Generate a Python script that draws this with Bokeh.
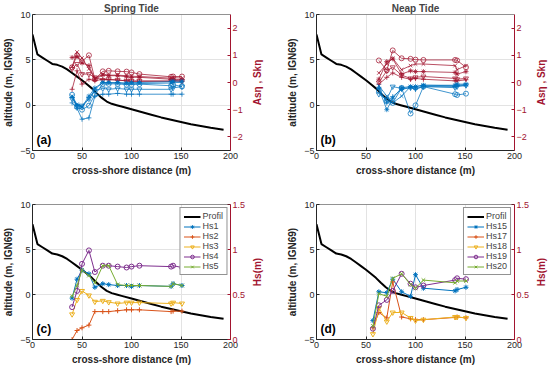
from bokeh.plotting import figure
from bokeh.layouts import gridplot
from bokeh.models import Range1d, LinearAxis, FixedTicker, Span, Label
from bokeh.embed import file_html
from bokeh.resources import INLINE

FONT = "Liberation Sans"
RED = "#A2142F"
BLUE = "#0072BD"
DARK = "#262626"
HS_COLORS = ["#0072BD", "#D95319", "#EDB120", "#7E2F8E", "#77AC30"]
MARKERS = ["asterisk", "cross", "inverted_triangle", "circle", "x"]

# beach profile
prof_x = [0, 5, 10, 15, 20, 25, 30, 35, 40, 45, 50, 55, 60, 65, 70, 75, 80, 85, 90,
          100, 110, 120, 130, 140, 150, 160, 170, 180, 193]
prof_z = [7.8, 5.6, 5.25, 4.9, 4.55, 4.45, 4.25, 3.95, 3.55, 3.15, 2.75, 2.3, 1.85, 1.3,
          0.8, 0.4, 0.15, 0.0, -0.15, -0.45, -0.75, -1.05, -1.35, -1.6, -1.85, -2.1,
          -2.3, -2.5, -2.7]

# sensor positions
x_spring = [40, 45, 50, 57, 63, 71, 77, 86, 95, 100, 108, 140, 142, 151]
x_neap_a = [63, 71, 77, 86, 95, 100, 108, 140, 142, 151]
x_neap_h = [57, 63, 71, 77, 86, 95, 100, 108, 140, 142, 151]

# (a) spring tide skewness / asymmetry
sk_spring_1 = [0.92, 0.95, 0.72, 0.62, 0.12, 0.27, 0.25, 0.25, 0.21, 0.19, 0.19, 0.12, 0.12, 0.10]
sk_spring_2 = [-0.25, 0.43, -0.06, 0.12, 0.06, 0.12, 0.10, 0.09, 0.06, 0.04, 0.04, 0.04, 0.05, 0.04]
sk_spring_3 = [0.50, 0.68, 0.31, 0.31, 0.19, 0.09, 0.12, 0.09, 0.06, 0.06, 0.06, 0.06, 0.08, 0.06]
sk_spring_4 = [0.56, 1.00, 0.78, 1.00, 0.12, 0.41, 0.43, 0.41, 0.40, 0.37, 0.31, 0.21, 0.22, 0.22]
sk_spring_5 = [0.58, 1.12, 0.90, 0.50, 0.15, 0.31, 0.27, 0.27, 0.25, 0.23, 0.22, 0.16, 0.18, 0.16]
as_spring_1 = [-0.55, -0.85, -0.90, -0.50, -0.20, 0.00, 0.00, 0.00, -0.02, 0.00, 0.00, 0.03, 0.05, 0.05]
as_spring_2 = [-0.75, -0.95, -1.35, -1.30, -0.50, -0.43, -0.43, -0.40, -0.43, -0.43, -0.43, -0.43, -0.43, -0.43]
as_spring_3 = [-0.60, -0.85, -0.85, -0.60, -0.30, -0.22, -0.25, -0.22, -0.25, -0.25, -0.25, -0.25, -0.20, -0.15]
as_spring_4 = [-0.45, -0.90, -1.00, -0.85, -0.45, -0.05, -0.05, -0.05, -0.08, -0.08, -0.06, -0.12, -0.08, -0.15]
as_spring_5 = [-0.50, -0.80, -0.90, -0.60, -0.25, 0.00, -0.02, -0.02, -0.04, -0.04, -0.04, -0.02, 0.00, 0.00]

# (b) neap tide skewness / asymmetry
sk_neap_1 = [0.12, 0.77, 0.87, 0.31, 0.43, 0.40, 0.40, 0.37, 0.31, 0.40]
sk_neap_2 = [-0.06, 0.19, 0.35, 0.19, 0.12, 0.15, 0.12, 0.06, 0.06, 0.10]
sk_neap_3 = [0.00, 0.43, 0.56, 0.27, 0.15, 0.19, 0.22, 0.15, 0.12, 0.15]
sk_neap_4 = [0.81, 0.45, 1.18, 0.89, 0.87, 0.84, 0.83, 0.83, 0.81, 0.56]
sk_neap_5 = [0.35, 0.68, 0.89, 0.47, 0.62, 0.68, 0.68, 0.62, 0.47, 0.62]
as_neap_1 = [-0.22, -1.00, -0.58, -0.19, -0.15, -0.15, -0.10, -0.10, -0.06, -0.06]
as_neap_2 = [-0.19, -0.75, -0.52, -0.25, -0.19, -0.25, -0.15, -0.15, -0.12, -0.12]
as_neap_3 = [-0.43, -0.62, -0.15, -0.22, -0.19, -0.22, -0.15, -0.19, -0.15, -0.10]
as_neap_4 = [-0.31, -0.68, -0.75, -0.20, -1.14, -0.84, -0.15, -0.43, -0.46, -0.41]
as_neap_5 = [-0.12, -0.50, -0.75, -0.50, -0.15, -0.15, -0.10, -0.12, -0.10, -0.08]

# (c) spring tide significant wave height
hs1 = [0.46, 0.67, 0.77, 0.73, 0.58, 0.62, 0.61, 0.60, 0.60, 0.59, 0.60, 0.59, 0.62, 0.60]
hs2 = [0.00, 0.10, 0.13, 0.16, 0.31, 0.31, 0.31, 0.32, 0.33, 0.33, 0.33, 0.31, 0.315, 0.315]
hs3 = [0.28, 0.44, 0.54, 0.49, 0.42, 0.43, 0.415, 0.40, 0.41, 0.41, 0.41, 0.40, 0.41, 0.40]
hs4 = [0.36, 0.54, 0.84, 0.99, 0.75, 0.82, 0.82, 0.81, 0.80, 0.81, 0.82, 0.81, 0.82, 0.80]
hs5 = [0.48, 0.60, 0.77, 0.71, 0.63, 0.82, 0.82, 0.61, 0.60, 0.60, 0.60, 0.59, 0.62, 0.60]

# (d) neap tide significant wave height
hs15 = [0.21, 0.53, 0.52, 0.67, 0.53, 0.48, 0.72, 0.57, 0.54, 0.555, 0.58]
hs17 = [0.13, 0.30, 0.24, 0.64, 0.25, 0.23, 0.22, 0.22, 0.245, 0.25, 0.24]
hs18 = [0.06, 0.35, 0.20, 0.30, 0.30, 0.24, 0.21, 0.22, 0.25, 0.25, 0.24]
hs19 = [0.12, 0.38, 0.44, 0.54, 0.73, 0.62, 0.58, 0.60, 0.66, 0.68, 0.67]
hs20 = [0.15, 0.51, 0.48, 0.68, 0.73, 0.61, 0.57, 0.66, 0.63, 0.65, 0.65]

hs_spring_names = ["Hs1", "Hs2", "Hs3", "Hs4", "Hs5"]
hs_neap_names = ["Hs15", "Hs17", "Hs18", "Hs19", "Hs20"]

FW = 198
FH_TOP = 136
FH_BOT = 135
TOP_T, TOP_B = 10, 32
BOT_T, BOT_B = 22, 23


def style_axis(ax, color):
    ax.axis_line_color = color
    ax.major_tick_line_color = color
    ax.major_tick_in = 3
    ax.major_tick_out = 0
    ax.minor_tick_line_color = None
    ax.major_label_text_color = color
    ax.major_label_text_font = FONT
    ax.major_label_text_font_size = "9px"
    ax.major_label_standoff = 2
    ax.axis_label_text_font = FONT
    ax.axis_label_text_font_size = "10px"
    ax.axis_label_text_font_style = "bold"
    ax.axis_label_text_color = color
    ax.axis_label_standoff = 3


def set_title(p, text):
    p.title.text = text
    p.title.align = "center"
    p.title.text_font = FONT
    p.title.text_font_size = "10px"
    p.title.text_font_style = "bold"
    p.title.standoff = 1


def make_fig(fh, l, r, t, b, title, tag, rrange, rticks):
    p = figure(frame_width=FW, frame_height=fh, x_range=Range1d(0, 200), y_range=Range1d(-5, 10),
               output_backend="svg", toolbar_location=None,
               min_border_left=l, min_border_right=r, min_border_top=t, min_border_bottom=b)
    if title:
        set_title(p, title)
    p.outline_line_color = None
    p.xaxis.ticker = FixedTicker(ticks=[0, 50, 100, 150, 200])
    p.yaxis.ticker = FixedTicker(ticks=[-5, 0, 5, 10])
    p.xaxis.axis_label = "cross-shore distance (m)"
    p.yaxis.axis_label = "altitude (m, IGN69)"
    style_axis(p.xaxis[0], DARK)
    style_axis(p.yaxis[0], DARK)
    p.xgrid.grid_line_color = "#e3e3e3"
    p.ygrid.grid_line_color = "#e3e3e3"
    p.add_layout(Span(location=10, dimension="width", line_color=DARK, line_width=1))
    p.extra_y_ranges = {"r": Range1d(*rrange)}
    rax = LinearAxis(y_range_name="r", ticker=FixedTicker(ticks=rticks))
    style_axis(rax, RED)
    p.add_layout(rax, "right")
    p.add_layout(Label(x=4, y=-4.6, text=tag, text_font=FONT, text_font_size="12px",
                       text_font_style="bold", text_baseline="bottom", text_color="black"))
    return p


def label_strip(fh, l, r, t, b, title, text):
    """Narrow companion figure whose left-axis title serves as the red right-hand
    axis title (reading bottom to top, as in the reference)."""
    s = figure(frame_width=1, frame_height=fh, x_range=Range1d(0, 1), y_range=Range1d(0, 1),
               output_backend="svg", toolbar_location=None,
               min_border_left=l, min_border_right=r, min_border_top=t, min_border_bottom=b)
    if title:
        set_title(s, " ")
    s.outline_line_color = None
    s.xaxis.visible = False
    s.grid.visible = False
    ax = s.yaxis[0]
    ax.ticker = FixedTicker(ticks=[])
    ax.axis_line_color = None
    ax.major_tick_line_color = None
    ax.minor_tick_line_color = None
    ax.axis_label = text
    ax.axis_label_text_font = FONT
    ax.axis_label_text_font_size = "10px"
    ax.axis_label_text_font_style = "bold"
    ax.axis_label_text_color = RED
    ax.axis_label_standoff = 0
    return s


def add_series(p, xs, ys, color, marker, alpha=1.0, legend=None):
    kw = {} if legend is None else {"legend_label": legend}
    p.line(xs, ys, line_color=color, line_width=1, line_alpha=alpha, y_range_name="r", **kw)
    fill = color if marker == "asterisk" else None
    p.scatter(xs, ys, marker=marker, size=5, line_color=color, fill_color=fill,
              line_alpha=alpha, line_width=1, y_range_name="r", **kw)


def style_legend(p):
    lg = p.legend[0]
    lg.location = "top_right"
    lg.label_text_font = FONT
    lg.label_text_font_size = "9px"
    lg.label_height = 9
    lg.glyph_height = 9
    lg.glyph_width = 17
    lg.label_standoff = 2
    lg.spacing = 0
    lg.padding = 3
    lg.margin = 3
    lg.border_line_color = DARK
    lg.border_line_width = 1
    lg.background_fill_alpha = 1.0


ASSK = "As\u03b7 , Sk\u03b7"
SK_TICKS = [-2, -1, 0, 1, 2]
HS_TICKS = [0, 0.5, 1, 1.5]

# (a)
pa = make_fig(FH_TOP, 27, 14, TOP_T, TOP_B, "Spring Tide", "(a)", (-2.5, 2.5), SK_TICKS)
pa.line(prof_x, prof_z, line_color="black", line_width=2)
for ys, m in zip([sk_spring_1, sk_spring_2, sk_spring_3, sk_spring_4, sk_spring_5], MARKERS):
    add_series(pa, x_spring, ys, RED, m, 0.75)
for ys, m in zip([as_spring_1, as_spring_2, as_spring_3, as_spring_4, as_spring_5], MARKERS):
    add_series(pa, x_spring, ys, BLUE, m, 0.75)
la = label_strip(FH_TOP, 14, 17, TOP_T, TOP_B, True, ASSK)

# (b)
pb = make_fig(FH_TOP, 36, 12, TOP_T, TOP_B, "Neap Tide", "(b)", (-2.5, 2.5), SK_TICKS)
pb.line(prof_x, prof_z, line_color="black", line_width=2)
for ys, m in zip([sk_neap_1, sk_neap_2, sk_neap_3, sk_neap_4, sk_neap_5], MARKERS):
    add_series(pb, x_neap_a, ys, RED, m, 0.75)
for ys, m in zip([as_neap_1, as_neap_2, as_neap_3, as_neap_4, as_neap_5], MARKERS):
    add_series(pb, x_neap_a, ys, BLUE, m, 0.75)
lb = label_strip(FH_TOP, 10, 5, TOP_T, TOP_B, True, ASSK)

# (c)
pc = make_fig(FH_BOT, 27, 14, BOT_T, BOT_B, None, "(c)", (0, 1.5), HS_TICKS)
pc.line(prof_x, prof_z, line_color="black", line_width=2, legend_label="Profil")
for ys, c, m, n in zip([hs1, hs2, hs3, hs4, hs5], HS_COLORS, MARKERS, hs_spring_names):
    add_series(pc, x_spring, ys, c, m, 1.0, n)
style_legend(pc)
lc = label_strip(FH_BOT, 14, 17, BOT_T, BOT_B, False, "Hs(m)")

# (d)
pd_ = make_fig(FH_BOT, 36, 12, BOT_T, BOT_B, None, "(d)", (0, 1.5), HS_TICKS)
pd_.line(prof_x, prof_z, line_color="black", line_width=2, legend_label="Profil")
for ys, c, m, n in zip([hs15, hs17, hs18, hs19, hs20], HS_COLORS, MARKERS, hs_neap_names):
    add_series(pd_, x_neap_h, ys, c, m, 1.0, n)
style_legend(pd_)
ld = label_strip(FH_BOT, 10, 5, BOT_T, BOT_B, False, "Hs(m)")

grid = gridplot([[pa, la, pb, lb], [pc, lc, pd_, ld]], toolbar_location=None)
open("out.html", "w").write(file_html(grid, INLINE))
